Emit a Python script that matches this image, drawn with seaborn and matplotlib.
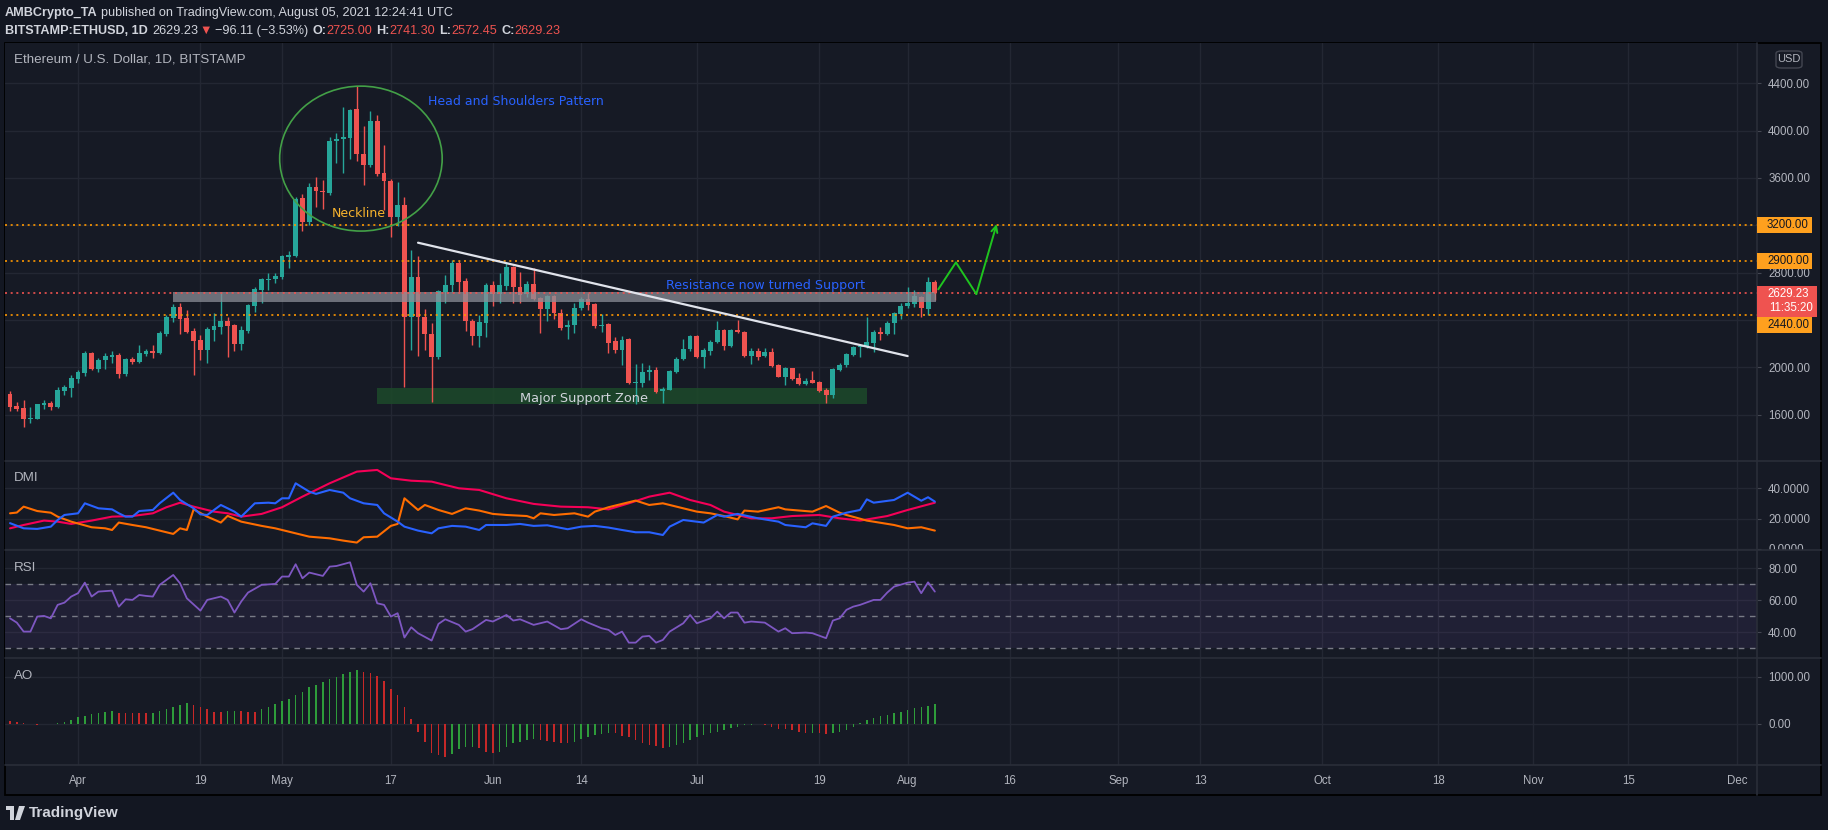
import matplotlib
matplotlib.use("Agg")
import matplotlib.pyplot as plt
import matplotlib.dates as mdates
from matplotlib.patches import Ellipse, Rectangle, FancyBboxPatch, Polygon
from matplotlib.lines import Line2D
from matplotlib.transforms import Bbox, TransformedBbox
import seaborn as sns
import numpy as np
import pandas as pd

W, H = 1828, 830

# daily candles BITSTAMP:ETHUSD, 22 Mar 2021 -> 05 Aug 2021
opens = [1774, 1673, 1656, 1566, 1563, 1684, 1698, 1667, 1799, 1828,
         1901, 1954, 2121, 1988, 2064, 2090, 2104, 1946, 2070, 2045, 2112, 2138, 2121, 2281, 2416,
         2509, 2416, 2307, 2230, 2146, 2315, 2340, 2391, 2357, 2197, 2307, 2518, 2653, 2737, 2746,
         2763, 2935, 2940, 3430, 3227, 3520, 3487, 3475, 3909, 3926, 3940, 4182, 3802, 3712, 4081,
         3639, 3577, 3273, 3371, 2427, 2765, 2427, 2281, 2084, 2639, 2695, 2884, 2729, 2394, 2267, 2371,
         2695, 2619, 2687, 2850, 2681, 2619, 2704, 2585, 2495, 2602, 2456, 2343, 2357, 2501, 2574,
         2535, 2352, 2366, 2222, 2146, 2239, 1864, 1864, 1960, 1977, 1802, 1811, 1960, 2067, 2152,
         2264, 2090, 2140, 2214, 2315, 2180, 2315, 2298, 2095, 2138, 2095, 2129, 2019, 1921, 1991,
         1912, 1859, 1892, 1876, 1808, 1766, 1977, 2016, 2104, 2174, 2169, 2208, 2298, 2281, 2371, 2450,
         2518, 2535, 2597, 2490, 2725]
highs = [1799, 1704, 1723, 1664, 1692, 1723, 1712, 1833, 1850, 1935,
         1977, 2138, 2129, 2078, 2121, 2138, 2121, 2075, 2087, 2185, 2154, 2185, 2307, 2442, 2535,
         2540, 2484, 2332, 2273, 2340, 2459, 2636, 2425, 2365, 2349, 2535, 2678, 2757, 2797, 2797,
         2949, 2983, 3442, 3464, 3554, 3605, 3580, 3949, 3977, 4197, 4180, 4377, 4039, 4168, 4132,
         3878, 3590, 3566, 3442, 2991, 2940, 2495, 2371, 2655, 2780, 2906, 2895, 2751, 2405, 2442, 2715,
         2732, 2794, 2884, 2860, 2808, 2732, 2836, 2597, 2610, 2615, 2495, 2399, 2540, 2591, 2630,
         2545, 2450, 2375, 2259, 2264, 2245, 2028, 2033, 2019, 2005, 1836, 1977, 2090, 2242, 2273,
         2270, 2160, 2231, 2388, 2321, 2321, 2400, 2305, 2160, 2160, 2160, 2160, 2025, 1999, 1995,
         1949, 1906, 1971, 1880, 1822, 1991, 2033, 2118, 2180, 2197, 2422, 2315, 2338, 2394, 2470, 2540,
         2681, 2653, 2605, 2766, 2741.30]
lows = [1630, 1630, 1498, 1532, 1560, 1647, 1639, 1659, 1768, 1752,
        1870, 1929, 1977, 1963, 1988, 2033, 1912, 1929, 2030, 2036, 2098, 2081, 2112, 2264, 2383,
        2281, 2290, 1935, 2061, 2036, 2222, 2281, 2087, 2138, 2146, 2290, 2467, 2543, 2653, 2712,
        2746, 2839, 2935, 3151, 3202, 3357, 3340, 3458, 3723, 3644, 3763, 3740, 3537, 3690, 3616,
        3329, 3104, 3194, 1836, 2146, 2095, 2146, 1709, 2067, 2540, 2639, 2639, 2309, 2188, 2168, 2258,
        2518, 2540, 2653, 2540, 2540, 2597, 2568, 2292, 2394, 2405, 2315, 2236, 2287, 2484, 2484,
        2329, 2301, 2124, 2118, 2019, 1859, 1687, 1836, 1892, 1780, 1701, 1808, 1954, 2061, 2140,
        2076, 1997, 2104, 2208, 2146, 2174, 2293, 2090, 2028, 2061, 2084, 2005, 1915, 1847, 1892,
        1850, 1847, 1864, 1794, 1701, 1737, 1968, 2005, 2095, 2090, 2165, 2132, 2231, 2276, 2281, 2411,
        2498, 2512, 2428, 2442, 2572.45]
closes = [1667, 1647, 1563, 1574, 1690, 1698, 1667, 1808, 1830, 1909,
          1960, 2121, 1985, 2061, 2098, 2104, 1946, 2067, 2045, 2121, 2138, 2121, 2290, 2425, 2509,
          2408, 2298, 2222, 2146, 2323, 2349, 2391, 2349, 2197, 2315, 2526, 2661, 2746, 2746, 2771,
          2940, 2952, 3419, 3227, 3520, 3487, 3478, 3915, 3929, 3946, 4174, 3805, 3712, 4081, 3633,
          3577, 3273, 3371, 2427, 2765, 2427, 2281, 2084, 2647, 2695, 2884, 2720, 2394, 2267, 2382, 2695,
          2619, 2695, 2850, 2681, 2611, 2704, 2574, 2495, 2602, 2461, 2334, 2357, 2501, 2574, 2529,
          2349, 2360, 2208, 2146, 2231, 1864, 1876, 1957, 1977, 1791, 1819, 1971, 2067, 2152, 2264,
          2090, 2146, 2214, 2315, 2180, 2315, 2301, 2095, 2138, 2090, 2129, 2011, 1921, 1991, 1898,
          1859, 1884, 1870, 1800, 1766, 1985, 2016, 2109, 2174, 2183, 2214, 2298, 2281, 2371, 2456, 2518,
          2546, 2602, 2498, 2725, 2629.23]

plus_di_idx = [0, 2, 4, 6, 7, 8, 10, 11, 13, 15, 16, 17, 18, 19, 21, 22, 24, 25, 27, 28,
               29, 31, 33, 34, 36, 38, 39, 40, 41, 42, 44, 45, 47, 49, 50, 52, 54, 55, 57, 58,
               60, 62, 63, 65, 67, 69, 70, 73, 75, 77, 79, 82, 84, 86, 88, 90, 92, 94, 96, 97,
               99, 102, 104, 105, 107, 110, 113, 114, 117, 118, 120, 121, 123, 125, 126, 127, 130, 132, 134, 135, 136]
plus_di = [17.0, 13.6, 13.2, 14.7, 19.1, 22.4, 23.5, 30.1, 26.8, 26.1, 23.5, 21.3, 21.3, 25.0, 25.7, 30.1, 37.1, 32.3, 26.8, 22.8,
           22.4, 29.0, 24.6, 21.3, 30.1, 30.5, 30.1, 33.4, 33.4, 43.3, 37.8, 36.3, 38.9, 37.1, 33.4, 30.1, 29.0, 23.5, 18.0, 14.7,
           12.1, 10.3, 13.6, 15.2, 14.7, 12.5, 15.8, 15.8, 16.5, 15.2, 15.6, 13.0, 14.7, 15.2, 14.1, 12.5, 11.0, 11.0, 9.2, 14.7,
           19.1, 17.4, 22.4, 21.3, 23.1, 20.2, 18.0, 15.8, 14.3, 16.9, 15.2, 21.3, 23.9, 25.7, 32.7, 30.5, 32.3, 37.1, 31.8, 34.1, 31.2]
minus_di_idx = [0, 1, 2, 4, 6, 7, 9, 12, 14, 15, 16, 18, 20, 22, 24, 25, 26, 27, 29, 31,
                32, 34, 37, 39, 41, 44, 47, 49, 51, 52, 54, 56, 57, 58, 60, 61, 63, 65, 67, 69,
                71, 73, 76, 77, 78, 80, 83, 85, 86, 88, 90, 92, 94, 96, 98, 101, 103, 105, 107, 108,
                110, 113, 114, 118, 120, 122, 123, 126, 130, 132, 134, 136]
minus_di = [23.5, 24.0, 27.9, 25.0, 23.9, 21.3, 18.0, 14.3, 13.6, 12.5, 17.4, 15.8, 14.3, 12.1, 9.9, 13.6, 12.5, 26.1, 21.3, 17.4,
            21.8, 18.0, 15.2, 13.6, 11.4, 8.1, 7.0, 5.5, 4.2, 7.7, 8.1, 15.2, 16.5, 33.4, 25.7, 29.0, 25.7, 23.1, 26.8, 25.3,
            23.1, 22.4, 21.7, 20.2, 23.5, 22.4, 23.5, 21.3, 24.6, 27.5, 29.7, 31.9, 29.0, 30.1, 27.9, 24.6, 23.5, 21.7, 19.5, 25.3,
            24.6, 27.5, 26.1, 24.6, 28.3, 23.9, 22.4, 18.7, 15.8, 13.6, 14.3, 12.1]
adx_idx = [0, 2, 5, 7, 9, 12, 15, 18, 21, 23, 25, 27, 30, 32, 34, 37, 40, 43, 47, 51,
           54, 56, 59, 62, 66, 69, 73, 77, 81, 85, 88, 91, 94, 97, 100, 103, 105, 109, 112, 115,
           119, 122, 125, 129, 132, 136]
adx = [13.6, 15.8, 18.7, 18.0, 16.5, 18.7, 21.3, 21.7, 23.5, 27.5, 30.5, 27.9, 24.6, 23.5, 21.3, 23.1, 27.5, 34.5, 43.3, 51.0,
       52.1, 46.6, 45.0, 44.4, 40.0, 38.9, 33.4, 29.7, 27.9, 27.5, 26.1, 30.1, 34.5, 37.1, 32.3, 29.0, 24.6, 20.2, 20.2, 21.7,
       22.4, 20.2, 18.7, 21.7, 25.7, 30.5]

# RSI vertices
rsi_idx = [0, 1, 2, 3, 4, 5, 6, 7, 8, 9, 10, 11, 12, 13, 15, 16, 17, 18, 19, 20,
           21, 22, 24, 25, 26, 28, 29, 31, 32, 33, 34, 35, 37, 39, 40, 41, 42, 43, 44, 46,
           47, 48, 50, 51, 52, 53, 54, 55, 56, 57, 58, 59, 60, 62, 63, 64, 66, 67, 68, 70,
           71, 73, 74, 75, 77, 79, 81, 82, 84, 85, 87, 88, 89, 90, 91, 92, 93, 94, 95, 96,
           97, 99, 100, 101, 103, 104, 105, 106, 107, 108, 109, 111, 113, 114, 115, 117, 118, 120, 121, 122,
           123, 124, 125, 127, 128, 129, 130, 132, 133, 134, 135, 136]
rsi = [48.7, 46.0, 40.4, 40.4, 49.8, 50.2, 48.7, 57.1, 58.5, 62.3, 64.4, 71.0, 62.3, 65.4, 66.0, 56.0, 60.6, 60.2, 63.3, 62.7,
       62.3, 69.6, 75.8, 70.6, 61.2, 53.5, 60.2, 62.3, 60.2, 52.3, 59.2, 64.8, 69.6, 70.2, 74.8, 74.8, 82.5, 73.7, 77.3, 75.2,
       81.0, 81.4, 83.7, 69.6, 65.4, 70.6, 58.1, 57.1, 49.8, 51.9, 36.7, 43.1, 39.4, 34.8, 45.2, 48.1, 44.6, 40.4, 41.9, 47.7,
       46.7, 50.8, 47.3, 48.1, 44.6, 46.7, 41.9, 42.5, 48.1, 46.0, 42.5, 41.5, 38.3, 40.4, 33.5, 33.5, 37.3, 37.7, 33.5, 35.2,
       40.4, 45.6, 50.8, 45.6, 48.7, 52.9, 48.7, 52.3, 52.3, 46.0, 46.7, 46.0, 40.4, 42.5, 39.4, 39.8, 39.4, 36.3, 47.3, 48.7,
       54.0, 56.0, 57.1, 60.2, 60.2, 64.8, 68.5, 71.0, 71.6, 64.4, 71.2, 65.4]

# Awesome Oscillator, one bar a day
ao = [71, 50, 28, 0, -21, -7, 0, 28, 50, 85,
      155, 176, 212, 240, 261, 268, 240, 226, 226, 226,
      226, 240, 282, 310, 353, 402, 437, 402, 353, 310,
      261, 254, 268, 275, 275, 261, 261, 310, 367, 423,
      494, 522, 613, 684, 776, 825, 896, 945, 1001, 1058,
      1107, 1142, 1107, 1086, 1015, 917, 733, 613, 367, 99,
      -162, -373, -620, -655, -691, -634, -536, -493, -479, -514,
      -585, -606, -585, -479, -409, -373, -338, -324, -338, -352,
      -373, -409, -409, -373, -324, -268, -233, -211, -183, -197,
      -254, -282, -338, -394, -444, -465, -514, -479, -444, -394,
      -338, -282, -233, -183, -162, -127, -92, -56, -28, -14,
      -7, -28, -70, -99, -113, -127, -162, -197, -183, -197,
      -211, -183, -162, -127, -56, 14, 85, 120, 169, 190,
      226, 261, 296, 331, 367, 381, 423]

tick_dates = ["2021-04-01", "2021-04-19", "2021-05-01", "2021-05-17", "2021-06-01", "2021-06-14",
              "2021-07-01", "2021-07-19", "2021-08-01", "2021-08-16", "2021-09-01", "2021-09-13",
              "2021-10-01", "2021-10-18", "2021-11-01", "2021-11-15", "2021-12-01"]
tick_labels = ["Apr", "19", "May", "17", "Jun", "14", "Jul", "19", "Aug", "16", "Sep", "13",
               "Oct", "18", "Nov", "15", "Dec"]

levels = [3200, 2900, 2440]
last_price = 2629.23
countdown = "11:35:20"

# drawings on the chart (days after 1 Apr, price)
resist_zone = (14.0, 126.2, 2551, 2636)
support_zone = (44.0, 116.0, 1690, 1822)
hs_circle = (41.6, 3764, 23.9, 1225)
trend_days = [50.0, 122.0]
trend_prices = [3053, 2095]
proj_days = [126.5, 129.1, 132.1, 135.1]
proj_prices = [2659, 2887, 2619, 3211]

# ---------------------------------------------------------------
sns.set_style("dark")
plt.rcParams['font.family'] = ['Liberation Sans', 'DejaVu Sans']
plt.rcParams['axes.unicode_minus'] = False

BG = '#131722'
PANE = '#161a25'
GRID = '#232733'
SEP = '#2a2e39'
TXT = '#b2b5be'
WHITE = '#d1d4dc'
UP, DOWN = '#26a69a', '#ef5350'
ORANGE = '#ff9800'

fig = plt.figure(figsize=(W / 100, H / 100), dpi=100, facecolor=BG)


def fx(x):
    return x / W


def fy(y):
    return 1 - y / H


fig.patches.append(Rectangle((fx(5), fy(795)), (1821 - 5) / W, (795 - 43) / H, transform=fig.transFigure,
                             facecolor=PANE, edgecolor='#000000', lw=1.3, zorder=-5))

dates = pd.date_range("2021-03-22", periods=len(closes), freq="D")
xd = mdates.date2num(dates)
apr1 = mdates.date2num(pd.Timestamp("2021-04-01"))
xt = mdates.date2num(pd.to_datetime(tick_dates))


def pane(top, bottom):
    ax = fig.add_axes([fx(5), fy(bottom), 1752 / W, (bottom - top) / H])
    ax.set_facecolor(PANE)
    ax.set_zorder(1)
    for s in ax.spines.values():
        s.set_visible(False)
    ax.set_xlim(apr1 - 10.74, apr1 + 246.9)
    ax.set_xticks(xt)
    ax.grid(True, color=GRID, lw=1)
    ax.set_axisbelow(True)
    ax.yaxis.tick_right()
    ax.tick_params(axis='y', length=3, color='#434651', pad=5, labelsize=8.3, labelcolor=TXT)
    ax.tick_params(axis='x', length=0, labelbottom=False)
    return ax


ax_p = pane(43, 461)
ax_d = pane(461, 550)
ax_r = pane(550, 658)
ax_a = pane(658, 765)

# ---- price pane
o = np.array(opens, float)
c = np.array(closes, float)
hi = np.array(highs, float)
lo = np.array(lows, float)
col = np.where(c >= o, UP, DOWN)
body = c - o
body = np.where(body >= 0, np.maximum(body, 7), np.minimum(body, -7))
ax_p.vlines(xd, lo, hi, colors=col, lw=1, zorder=3)
ax_p.bar(xd, body, bottom=o, width=0.72, color=col, zorder=4, linewidth=0)

ax_p.add_patch(Rectangle((apr1 + resist_zone[0], resist_zone[2]), resist_zone[1] - resist_zone[0],
                         resist_zone[3] - resist_zone[2], facecolor='#8a8d96', alpha=0.75, lw=0, zorder=5))
ax_p.add_patch(Rectangle((apr1 + support_zone[0], support_zone[2]), support_zone[1] - support_zone[0],
                         support_zone[3] - support_zone[2], facecolor='#1d4a2a', alpha=0.85, lw=0, zorder=2))
for lv in levels:
    ax_p.axhline(lv, color=ORANGE, lw=1.2, ls=(0, (1.2, 2.2)), zorder=6)
ax_p.axhline(last_price, color=DOWN, lw=1.2, ls=(0, (1.2, 2.2)), zorder=6)

ax_p.add_patch(Ellipse((apr1 + hs_circle[0], hs_circle[1]), hs_circle[2], hs_circle[3], fill=False,
                       edgecolor='#43a047', lw=1.2, zorder=6))
sns.lineplot(x=[apr1 + d for d in trend_days], y=trend_prices, ax=ax_p, color='#e0e3eb', lw=1.6, zorder=7)
sns.lineplot(x=[apr1 + d for d in proj_days[:-1]], y=proj_prices[:-1], ax=ax_p, color='#1fc41f', lw=1.4,
             sort=False, estimator=None, zorder=7)
ax_p.annotate('', xy=(apr1 + proj_days[-1], proj_prices[-1]), xytext=(apr1 + proj_days[-2], proj_prices[-2]),
              arrowprops=dict(arrowstyle='->,head_length=0.45,head_width=0.22', color='#1fc41f', lw=1.4,
                              shrinkA=0, shrinkB=0), zorder=7)

ann = ['DejaVu Sans']
ax_p.text(apr1 + 51.5, 4244, "Head and Shoulders Pattern", color='#2962ff', fontsize=9.0, family=ann,
          va='center', ha='left', zorder=8)
ax_p.text(apr1 + 41.3, 3296, "Neckline", color='#f9b42d', fontsize=9.0, family=ann,
          va='center', ha='center', zorder=8)
ax_p.text(apr1 + 86.4, 2690, "Resistance now turned Support", color='#2962ff', fontsize=9.1, family=ann,
          va='center', ha='left', zorder=8)
ax_p.text(apr1 + 74.4, 1740, "Major Support Zone", color=WHITE, fontsize=9.3, family=ann,
          va='center', ha='center', zorder=8)

price_ticks = list(range(1600, 4401, 400))
ax_p.set_yticks(price_ticks)
ax_p.set_yticklabels(['' if v in (2400, 3200) else f"{v:.2f}" for v in price_ticks])
ax_p.set_ylim(1208, 4741)

# ---- DMI
sns.lineplot(x=xd[adx_idx], y=adx, ax=ax_d, color='#f50057', lw=1.5, estimator=None)
sns.lineplot(x=xd[minus_di_idx], y=minus_di, ax=ax_d, color='#ff6d00', lw=1.5, estimator=None)
sns.lineplot(x=xd[plus_di_idx], y=plus_di, ax=ax_d, color='#2962ff', lw=1.5, estimator=None)
ax_d.set_yticks([0, 20, 40])
ax_d.set_yticklabels(["0.0000", "20.0000", "40.0000"])
ax_d.set_ylim(-0.7, 58.0)

# ---- RSI
ax_r.axhspan(30, 70, color='#7e57c2', alpha=0.1, lw=0)
for lv in (30, 50, 70):
    ax_r.axhline(lv, color='#787b86', lw=1, ls=(0, (4, 4)))
sns.lineplot(x=xd[rsi_idx], y=rsi, ax=ax_r, color='#7e57c2', lw=1.3, estimator=None)
ax_r.set_yticks([40, 60, 80])
ax_r.set_yticklabels(["40.00", "60.00", "80.00"])
ax_r.set_ylim(23.9, 91.4)

# ---- AO
ao_arr = np.array(ao, float)
ao_col = ['#c62828'] + ['#2e9c3a' if ao_arr[i] > ao_arr[i - 1] else '#c62828' for i in range(1, len(ao_arr))]
ax_a.bar(xd, ao_arr, width=0.22, color=ao_col, linewidth=0)
ax_a.set_yticks([0, 1000])
ax_a.set_yticklabels(["0.00", "1000.00"])
ax_a.set_ylim(-867, 1395)
ax_a.tick_params(axis='x', labelbottom=True, labelsize=8.3, labelcolor=TXT, pad=7)
ax_a.set_xticklabels(tick_labels)

for ax in (ax_p, ax_d, ax_r, ax_a):
    ax.set_xlabel('')
    ax.set_ylabel('')
    if ax.get_legend():
        ax.get_legend().remove()

# clip the DMI "0.0000" label at the pane border like the original
clip = TransformedBbox(Bbox([[0, fy(550)], [1, fy(461)]]), fig.transFigure)
for t in ax_d.yaxis.get_major_ticks():
    t.label2.set_clip_on(True)
    t.label2.set_clip_box(clip)

# pane labels
fig.text(fx(14), fy(60), "Ethereum / U.S. Dollar, 1D, BITSTAMP", color=TXT, fontsize=9.6, va='center', zorder=3)
fig.text(fx(14), fy(478), "DMI", color=TXT, fontsize=9.6, va='center', zorder=3)
fig.text(fx(14), fy(568), "RSI", color=TXT, fontsize=9.6, va='center', zorder=3)
fig.text(fx(14), fy(676), "AO", color=TXT, fontsize=9.6, va='center', zorder=3)

# separators
for yy in (461, 550, 658, 765):
    fig.add_artist(Line2D([fx(5), fx(1821)], [fy(yy), fy(yy)], color=SEP, lw=1.2, zorder=3))
fig.add_artist(Line2D([fx(1757), fx(1757)], [fy(43), fy(795)], color=SEP, lw=1.2, zorder=3))

# price badges on the right scale
fig.canvas.draw()


def ypix(ax, v):
    return H - ax.transData.transform((apr1, v))[1]


badge_shift = {3200: 0, 2900: 0, 2440: 10}
for lv in levels:
    yc = ypix(ax_p, lv) + badge_shift[lv]
    fig.patches.append(Rectangle((fx(1757), fy(yc + 8)), 55 / W, 16 / H, transform=fig.transFigure,
                                 facecolor='#ffa01e', lw=0, zorder=5))
    fig.text(fx(1767), fy(yc), f"{lv:.2f}", color='#131722', fontsize=8.3, va='center', zorder=6)
yc = ypix(ax_p, last_price)
fig.patches.append(Rectangle((fx(1757), fy(yc + 24)), 60 / W, 31 / H, transform=fig.transFigure,
                             facecolor=DOWN, lw=0, zorder=5))
fig.text(fx(1767), fy(yc + 1.5), f"{last_price:.2f}", color='white', fontsize=8.3, va='center', zorder=6)
fig.text(fx(1769), fy(yc + 15.5), countdown, color='white', fontsize=8.3, va='center', zorder=6)

fig.patches.append(FancyBboxPatch((fx(1776), fy(68)), 26 / W, 17 / H, boxstyle="round,pad=0,rounding_size=0.003",
                                  transform=fig.transFigure, facecolor='none', edgecolor='#434651', lw=1, zorder=5))
fig.text(fx(1789), fy(59.5), "USD", color=TXT, fontsize=8, ha='center', va='center', zorder=6)

# header
r = fig.canvas.get_renderer()


def row(parts, x, y):
    for s, color, weight, gap in parts:
        t = fig.text(fx(x), fy(y), s, color=color, fontsize=9.1, fontweight=weight, va='center', ha='left')
        x += t.get_window_extent(renderer=r).width + gap


row([("AMBCrypto_TA", WHITE, 'bold', 3),
     ("published on TradingView.com, August 05, 2021 12:24:41 UTC", WHITE, 'normal', 0)], 5, 13)
row([("BITSTAMP:ETHUSD, 1D", WHITE, 'bold', 5), ("2629.23", WHITE, 'normal', 1), ("\u25bc", DOWN, 'normal', 3),
     ("\u221296.11 (\u22123.53%)", WHITE, 'normal', 4),
     ("O:", WHITE, 'bold', 0), ("2725.00", DOWN, 'normal', 4),
     ("H:", WHITE, 'bold', 0), ("2741.30", DOWN, 'normal', 4),
     ("L:", WHITE, 'bold', 0), ("2572.45", DOWN, 'normal', 4),
     ("C:", WHITE, 'bold', 0), ("2629.23", DOWN, 'normal', 0)], 5, 31)

# TradingView mark
fig.patches.append(Rectangle((fx(6), fy(810)), 8 / W, 4 / H, transform=fig.transFigure, facecolor=WHITE, lw=0))
fig.patches.append(Rectangle((fx(10), fy(820)), 4 / W, 14 / H, transform=fig.transFigure, facecolor=WHITE, lw=0))
fig.patches.append(Polygon([(fx(19), fy(806)), (fx(25), fy(806)), (fx(20), fy(820)), (fx(15), fy(820))],
                           closed=True, transform=fig.transFigure, facecolor=WHITE, lw=0))
fig.text(fx(29), fy(813), "TradingView", color=WHITE, fontsize=11, fontweight='bold', va='center')

fig.savefig("out.png", dpi=100, facecolor=BG)
